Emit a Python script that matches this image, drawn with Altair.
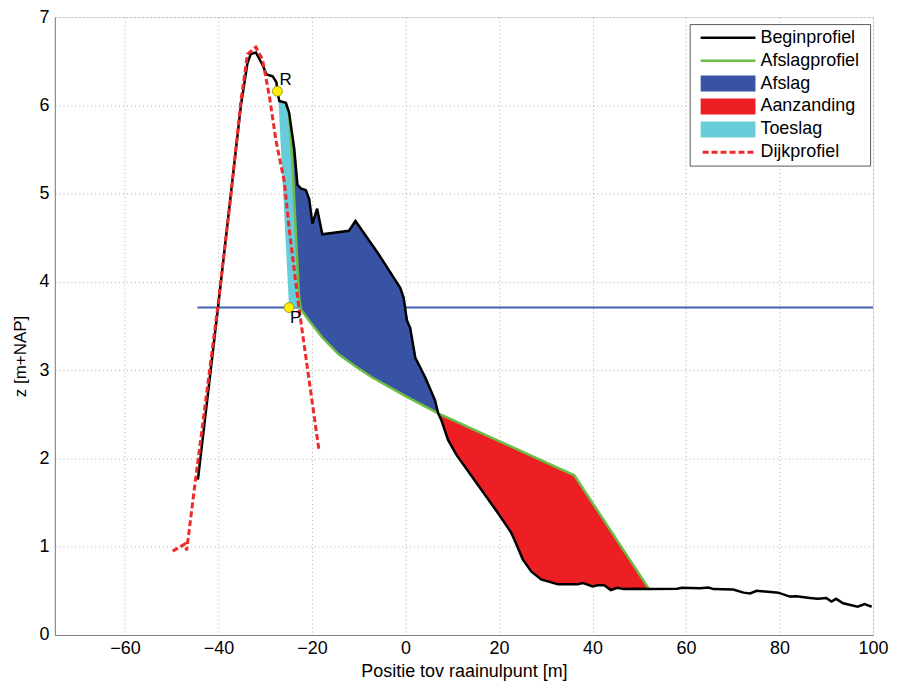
import altair as alt
import pandas as pd

# ---------------- data ----------------
beginprofiel = [(-44.4, 1.76), (-40.1, 3.71), (-37.3, 5.02), (-35.2, 6.0), (-33.8, 6.48), (-33.1, 6.58),
                (-32.0, 6.60), (-30.6, 6.46), (-29.7, 6.35), (-28.4, 6.33), (-27.6, 6.26), (-27.4, 6.16),
                (-27.0, 6.05), (-25.6, 6.03), (-24.9, 5.92), (-23.8, 5.51), (-23.1, 5.10), (-22.4, 5.06),
                (-21.3, 5.04), (-20.6, 4.94), (-19.9, 4.66), (-18.9, 4.83), (-17.8, 4.54), (-12.1, 4.58),
                (-10.7, 4.69), (-5.7, 4.31), (-1.1, 3.93), (-0.4, 3.82), (-0.1, 3.71), (0.3, 3.56),
                (1.0, 3.48), (2.1, 3.14), (4.2, 2.92), (6.3, 2.66), (7.0, 2.51), (7.7, 2.43), (9.1, 2.21),
                (10.9, 2.04), (15.5, 1.70), (19.8, 1.38), (22.6, 1.16), (23.3, 1.08), (25.1, 0.855),
                (26.9, 0.72), (29.0, 0.63), (32.6, 0.574), (36.8, 0.574), (37.9, 0.59), (40.0, 0.55),
                (41.1, 0.563), (42.5, 0.563), (43.9, 0.51), (45.3, 0.536), (46.7, 0.52), (49.6, 0.525),
                (52.1, 0.52), (58.1, 0.525), (59.1, 0.536), (63.0, 0.53), (64.8, 0.537), (65.9, 0.52),
                (70.1, 0.515), (72.3, 0.48), (73.7, 0.47), (75.1, 0.50), (78.7, 0.485), (79.7, 0.48),
                (82.2, 0.435), (83.6, 0.44), (86.5, 0.42), (88.2, 0.41), (90.0, 0.42), (91.1, 0.38),
                (92.1, 0.41), (93.6, 0.36), (96.7, 0.32), (98.2, 0.35), (99.2, 0.33), (99.7, 0.32)]

afslagprofiel = [(-25.6, 6.03), (-24.9, 5.90), (-24.2, 5.36), (-23.5, 4.61), (-22.8, 3.86), (-22.4, 3.69),
                 (-20.6, 3.56), (-17.8, 3.37), (-14.3, 3.18), (-10.9, 3.05), (-7.2, 2.92), (-0.1, 2.71),
                 (7.0, 2.51), (36.1, 1.81), (52.1, 0.52)]

dijkprofiel = [(-49.8, 0.95), (-47.2, 1.03), (-46.8, 0.96), (-45.1, 1.68), (-40.1, 3.74), (-37.3, 5.00),
               (-35.2, 6.05), (-33.8, 6.58), (-32.0, 6.66), (-30.6, 6.52), (-29.1, 6.10), (-27.7, 5.60),
               (-25.9, 5.13), (-24.9, 4.61), (-22.8, 3.71), (-18.5, 2.09)]

# Afslag (blue): x, lower (afslagprofiel), upper (beginprofiel)
afslag_x = [-25.6, -24.9, -24.2, -23.8, -23.5, -23.1, -22.8, -22.4, -21.3, -20.6, -19.9, -18.9, -17.8,
            -14.3, -12.1, -10.7, -7.2, -5.7, -1.1, -0.1, 1.0, 2.1, 4.2, 6.3, 7.0]
afslag_low = [6.03, 5.90, 5.36, 4.93, 4.61, 4.18, 3.86, 3.69, 3.61, 3.56, 3.51, 3.44, 3.37,
              3.18, 3.10, 3.05, 2.92, 2.88, 2.74, 2.71, 2.68, 2.65, 2.59, 2.53, 2.51]
afslag_high = [6.03, 5.92, 5.66, 5.51, 5.33, 5.10, 5.08, 5.06, 5.04, 4.94, 4.66, 4.83, 4.54,
               4.56, 4.58, 4.69, 4.42, 4.31, 3.93, 3.71, 3.48, 3.14, 2.92, 2.66, 2.51]

# Aanzanding (red): x, lower (beginprofiel), upper (afslagprofiel)
aanz_x = [7.0, 7.7, 9.1, 10.9, 15.5, 19.8, 22.6, 23.3, 25.1, 26.9, 29.0, 32.6, 36.1, 36.8, 37.9,
          40.0, 41.1, 42.5, 43.9, 45.3, 46.7, 49.6, 52.1]
aanz_low = [2.51, 2.43, 2.21, 2.04, 1.70, 1.38, 1.16, 1.08, 0.855, 0.72, 0.63, 0.574, 0.574, 0.574, 0.59,
            0.55, 0.563, 0.563, 0.51, 0.536, 0.52, 0.525, 0.52]
aanz_high = [2.51, 2.49, 2.46, 2.42, 2.31, 2.20, 2.13, 2.12, 2.07, 2.03, 1.98, 1.89, 1.81, 1.75, 1.66,
             1.50, 1.41, 1.29, 1.18, 1.07, 0.96, 0.72, 0.52]

# Toeslag (cyan)
toeslag_x = [-27.2, -25.6, -24.9, -24.2, -23.5, -22.8, -22.5]
toeslag_low = [6.08, 4.43, 3.71, 3.71, 3.71, 3.71, 3.71]
toeslag_high = [6.06, 6.03, 5.91, 5.36, 4.61, 3.86, 3.71]

# Rekenpeil line
peil_x = [-44.5, 100.0]
peil_z = 3.71

# Points R and P
point_names = ["R", "P"]
point_x = [-27.4, -24.9]
point_z = [6.16, 3.71]

x_ticks = [-60, -40, -20, 0, 20, 40, 60, 80, 100]
y_ticks = [0, 1, 2, 3, 4, 5, 6, 7]

legend_names = ["Beginprofiel", "Afslagprofiel", "Afslag", "Aanzanding", "Toeslag", "Dijkprofiel"]
legend_kinds = ["line", "line", "patch", "patch", "patch", "dash"]

# ---------------- styling ----------------
FONT = "Liberation Sans"
C_BLACK = "#000000"
C_GREEN = "#6cbd45"
C_BLUE = "#3953a4"
C_RED = "#ed1f24"
C_CYAN = "#68ccda"
C_DIJK = "#ee2a2a"
C_PEIL = "#4262b2"
legend_colors = [C_BLACK, C_GREEN, C_BLUE, C_RED, C_CYAN, C_DIJK]

xscale = alt.Scale(domain=[-75, 100], nice=False, zero=False)
yscale = alt.Scale(domain=[0, 7], nice=False, zero=False)
grid_kw = dict(grid=True, gridDash=[1, 3], gridColor="#b0b0b0", gridWidth=1, ticks=False,
               domainColor="#808080", domainWidth=1, labelFlush=False, labelOverlap=False,
               labelFont=FONT, titleFont=FONT, labelColor="#000", titleColor="#000",
               titleFontWeight="normal")
xaxis = alt.Axis(values=x_ticks, title="Positie tov raainulpunt [m]", labelFontSize=18, labelPadding=5,
                 titleFontSize=18, titleY=42, titleBaseline="alphabetic", **grid_kw)
yaxis = alt.Axis(values=y_ticks, title="z [m+NAP]", labelFontSize=18, labelPadding=6,
                 titleFontSize=17, titleX=-29, titleY=340, titleBaseline="alphabetic",
                 titleAngle=270, titleAlign="center", **grid_kw)


def X(f="x"):
    return alt.X(f"{f}:Q", scale=xscale, axis=xaxis)


def Y(f="z"):
    return alt.Y(f"{f}:Q", scale=yscale, axis=yaxis)


def line_df(pairs):
    return pd.DataFrame({"x": [p[0] for p in pairs], "z": [p[1] for p in pairs],
                         "i": list(range(len(pairs)))})


begin_df = line_df(beginprofiel)
afslagp_df = line_df(afslagprofiel)
dijk_df = line_df(dijkprofiel)
afslag_df = pd.DataFrame({"x": afslag_x, "z": afslag_low, "z2": afslag_high})
aanz_df = pd.DataFrame({"x": aanz_x, "z": aanz_low, "z2": aanz_high})
toeslag_df = pd.DataFrame({"x": toeslag_x, "z": toeslag_low, "z2": toeslag_high})
peil_df = pd.DataFrame({"x": [peil_x[0]], "x2": [peil_x[1]], "z": [peil_z]})
pts_df = pd.DataFrame({"x": point_x, "z": point_z, "name": point_names})

peil = alt.Chart(peil_df).mark_rule(color=C_PEIL, strokeWidth=2).encode(x=X(), x2="x2:Q", y=Y())
afslag = alt.Chart(afslag_df).mark_area(color=C_BLUE, opacity=1).encode(x=X(), y=Y(), y2="z2:Q")
aanz = alt.Chart(aanz_df).mark_area(color=C_RED, opacity=1).encode(x=X(), y=Y(), y2="z2:Q")
toeslag = alt.Chart(toeslag_df).mark_area(color=C_CYAN, opacity=1).encode(x=X(), y=Y(), y2="z2:Q")
green = alt.Chart(afslagp_df).mark_line(color=C_GREEN, strokeWidth=2.5).encode(x=X(), y=Y(), order="i:Q")
black = alt.Chart(begin_df).mark_line(color=C_BLACK, strokeWidth=2.5).encode(x=X(), y=Y(), order="i:Q")
dijk = alt.Chart(dijk_df).mark_line(color=C_DIJK, strokeWidth=3, strokeDash=[6, 3]).encode(
    x=X(), y=Y(), order="i:Q")
pts = alt.Chart(pts_df).mark_point(filled=True, fill="#ffee00", stroke="#8c8c00", strokeWidth=0.8,
                                   size=100, opacity=1).encode(x=X(), y=Y())
lbl_R = alt.Chart(pts_df[pts_df["name"] == "R"]).mark_text(
    align="left", baseline="middle", dx=2, dy=-11, fontSize=17, font=FONT, color="#000").encode(
    x=X(), y=Y(), text="name:N")
lbl_P = alt.Chart(pts_df[pts_df["name"] == "P"]).mark_text(
    align="left", baseline="middle", dx=1, dy=11, fontSize=17, font=FONT, color="#000").encode(
    x=X(), y=Y(), text="name:N")

# ---------------- legend (drawn in pixel space) ----------------
leg_df = pd.DataFrame({"name": legend_names, "kind": legend_kinds, "color": legend_colors})
leg_df["ly"] = [20.7 + 23.0 * i for i in range(len(leg_df))]
leg_df["ly1"] = leg_df["ly"] - 8
leg_df["ly2"] = leg_df["ly"] + 8
LY = alt.Y("ly:Q", scale=None, axis=None)

leg_box = alt.Chart(pd.DataFrame({"a": [0]})).mark_rect(
    fill="white", stroke="#5a5a5a", strokeWidth=1).encode(
    x=alt.value(637.5), x2=alt.value(818.5), y=alt.value(7.5), y2=alt.value(149.5))
leg_lines = alt.Chart(leg_df[leg_df["kind"] == "line"]).mark_rule(strokeWidth=2.5).encode(
    x=alt.value(648), x2=alt.value(703), y=LY, color=alt.Color("color:N", scale=None))
leg_dash = alt.Chart(leg_df[leg_df["kind"] == "dash"]).mark_rule(strokeWidth=3, strokeDash=[6, 3]).encode(
    x=alt.value(650), x2=alt.value(703), y=LY, color=alt.Color("color:N", scale=None))
leg_patch = alt.Chart(leg_df[leg_df["kind"] == "patch"]).mark_rect().encode(
    x=alt.value(648), x2=alt.value(703), y=alt.Y("ly1:Q", scale=None, axis=None), y2="ly2:Q",
    color=alt.Color("color:N", scale=None))
leg_text = alt.Chart(leg_df).mark_text(align="left", baseline="middle", fontSize=18, font=FONT,
                                       color="#000").encode(x=alt.value(708), y=LY, text="name:N")

chart = alt.layer(
    peil, afslag, aanz, toeslag, green, black, dijk, pts, lbl_R, lbl_P,
    leg_box, leg_lines, leg_dash, leg_patch, leg_text
).properties(
    width=821, height=620,
    autosize=alt.AutoSizeParams(type="none"),
    padding={"left": 47, "top": 8, "right": 18, "bottom": 45},
).configure_view(stroke=None).configure(font=FONT, background="white")

chart.save("out.html", embed_options={"renderer": "svg", "actions": False})
